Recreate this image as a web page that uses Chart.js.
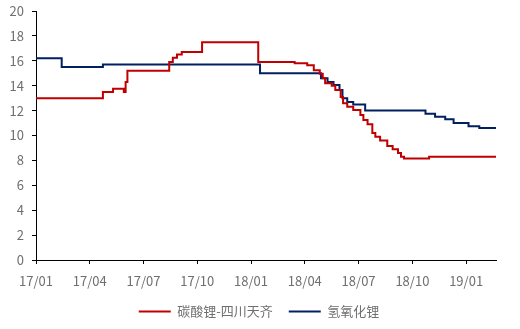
<!DOCTYPE html>
<html>
<head>
<meta charset="utf-8">
<script src="https://cdn.jsdelivr.net/npm/chart.js@4"></script>
<style>
  html, body { margin: 0; padding: 0; background: #fff; }
</style>
</head>
<body>
<canvas id="lithiumChart" width="520" height="329"></canvas>
<script>
// dates are where the price changes (step before)
const carbonateDates = ["2017-01-01", "2017-04-23", "2017-05-10", "2017-05-28", "2017-06-01", "2017-06-04",
    "2017-08-14", "2017-08-20", "2017-08-27", "2017-09-05", "2017-10-09", "2018-01-13", "2018-03-14",
    "2018-04-05", "2018-04-16", "2018-04-26", "2018-05-01", "2018-05-05", "2018-05-16", "2018-05-22",
    "2018-06-01", "2018-06-05", "2018-06-12", "2018-06-22", "2018-07-04", "2018-07-09", "2018-07-16",
    "2018-07-24", "2018-07-29", "2018-08-07", "2018-08-19", "2018-08-28", "2018-09-07", "2018-09-12",
    "2018-09-17", "2018-10-29", "2019-02-21"];
const carbonatePrices = [13.0, 13.5, 13.75, 13.5, 14.3, 15.2,
    15.9, 16.25, 16.5, 16.7, 17.5, 15.9, 15.8,
    15.65, 15.25, 14.95, 14.6, 14.2, 14.0, 13.65,
    13.1, 12.6, 12.3, 12.05, 11.65, 11.25, 10.9,
    10.2, 9.9, 9.6, 9.15, 8.9, 8.6, 8.3,
    8.15, 8.3, 8.3];

const hydroxideDates = ["2017-01-01", "2017-02-14", "2017-04-23", "2018-01-16", "2018-04-28", "2018-05-09",
    "2018-05-19", "2018-05-29", "2018-06-04", "2018-06-12", "2018-06-22", "2018-07-12", "2018-10-23",
    "2018-11-09", "2018-11-26", "2018-12-10", "2019-01-05", "2019-01-23", "2019-02-21"];
const hydroxidePrices = [16.2, 15.5, 15.7, 15.0, 14.6, 14.3,
    14.05, 13.65, 13.0, 12.7, 12.5, 12.0, 11.75,
    11.5, 11.3, 11.0, 10.75, 10.6, 10.6];

const seriesNames = ["碳酸锂-四川天齐", "氢氧化锂"];
const yTicks = [0, 2, 4, 6, 8, 10, 12, 14, 16, 18, 20];
const xTicks = [0, 3, 6, 9, 12, 15, 18, 21, 24]; // months since 2017/01

function toMonth(d) {
    const [y, m, day] = d.split("-").map(Number);
    return (y - 2017) * 12 + (m - 1) + (day - 1) / 30;
}
function toPoints(dates, vals) {
    return dates.map((d, i) => ({ x: toMonth(d), y: vals[i] }));
}
function monthLabel(v) {
    const m = Math.round(v);
    return String(17 + Math.floor(m / 12)) + "/" + String(m % 12 + 1).padStart(2, "0");
}

const font = { family: "'Noto Sans CJK SC', 'Noto Sans', sans-serif", size: 13 };
const grey = "#6f6f6f";

// nudge the legend so it sits centred under the plot, as in the original
const legendShift = {
    id: "legendShift",
    afterLayout(chart) {
        chart.legend.left += 11;
        chart.legend.right += 11;
    }
};

new Chart(document.getElementById("lithiumChart"), {
    type: "line",
    data: {
        datasets: [{
            label: seriesNames[0],
            data: toPoints(carbonateDates, carbonatePrices),
            borderColor: "#C00000",
            backgroundColor: "#C00000",
            borderWidth: 2,
            pointRadius: 0,
            stepped: "before"
        }, {
            label: seriesNames[1],
            data: toPoints(hydroxideDates, hydroxidePrices),
            borderColor: "#002060",
            backgroundColor: "#002060",
            borderWidth: 2,
            pointRadius: 0,
            stepped: "before"
        }]
    },
    options: {
        responsive: false,
        animation: false,
        layout: { padding: { top: 11, right: 24, bottom: 1, left: 0 } },
        scales: {
            x: {
                type: "linear",
                min: 0,
                max: toMonth("2019-02-21"),
                grid: { drawOnChartArea: false, tickLength: 4, color: "#000" },
                border: { color: "#000", width: 1 },
                afterBuildTicks: s => { s.ticks = xTicks.map(v => ({ value: v })); },
                afterFit: s => { s.height = 29; s.paddingLeft = 0; s.paddingRight = 0; },
                ticks: {
                    maxRotation: 0,
                    autoSkip: false,
                    padding: 9,
                    color: grey,
                    font: font,
                    callback: v => monthLabel(v)
                }
            },
            y: {
                min: 0,
                max: 20,
                afterBuildTicks: s => { s.ticks = yTicks.map(v => ({ value: v })); },
                afterFit: s => { s.width = 36; s.paddingTop = 0; s.paddingBottom = 0; },
                grid: { drawOnChartArea: false, tickLength: 4, color: "#000" },
                border: { color: "#000", width: 1 },
                ticks: { color: grey, font: font, padding: 8 }
            }
        },
        plugins: {
            legend: {
                position: "bottom",
                labels: {
                    usePointStyle: true,
                    pointStyle: "line",
                    pointStyleWidth: 32,
                    color: grey,
                    font: font,
                    padding: 16
                }
            },
            tooltip: { enabled: false }
        }
    },
    plugins: [legendShift]
});
</script>
</body>
</html>
